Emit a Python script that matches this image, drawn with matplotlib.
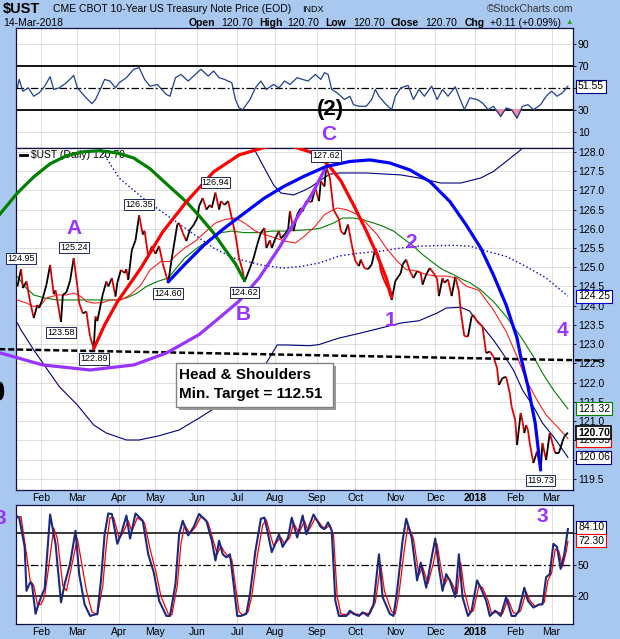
import numpy as np
import matplotlib
matplotlib.use('Agg')
import matplotlib.pyplot as plt
from matplotlib.collections import LineCollection
from matplotlib.patches import Rectangle, Ellipse
import matplotlib.transforms as mtransforms

plt.rcParams['font.family'] = ['Liberation Sans', 'DejaVu Sans']

# ---------------- data (x = trading session counted from 13-Jan-2017) ----------------
month_labels = ['Feb', 'Mar', 'Apr', 'May', 'Jun', 'Jul', 'Aug', 'Sep', 'Oct', 'Nov', 'Dec', '2018', 'Feb', 'Mar']
month_sessions = [13, 33, 56, 76, 99, 121, 142, 165, 186, 208, 230, 252, 274, 294]

price_session = [
    0, 2, 3, 5, 7, 9, 11, 12, 14, 16,
    18, 20, 21, 24, 25, 27, 29, 31, 33, 34,
    36, 38, 39, 40, 42, 43, 44, 46, 47, 49,
    50, 52, 54, 55, 57, 59, 60, 61, 63, 65,
    67, 69, 70, 72, 74, 76, 78, 80, 82, 83,
    85, 88, 89, 91, 93, 95, 97, 99, 100, 102,
    104, 106, 107, 109, 111, 112, 114, 116, 118, 120,
    122, 124, 125, 128, 130, 132, 134, 136, 137, 139,
    140, 142, 144, 145, 147, 149, 150, 152, 154, 156,
    157, 159, 162, 164, 166, 167, 169, 170, 172, 174,
    177, 178, 180, 182, 184, 186, 188, 189, 191, 193,
    195, 197, 199, 200, 202, 204, 206, 208, 211, 212,
    214, 216, 218, 220, 222, 223, 225, 227, 229, 231,
    232, 234, 235, 237, 239, 241, 243, 244, 246, 248,
    250, 251, 253, 256, 257, 258, 260, 262, 264, 265,
    267, 269, 271, 272, 274, 275, 277, 278, 279, 280,
    281, 282, 284, 286, 288, 289, 291, 293, 295, 296,
    298, 300, 301, 303]
price_close = [
    124.50, 124.95, 124.46, 124.63, 124.10, 123.68, 124.02, 123.94, 124.20, 124.55,
    125.06, 124.30, 124.40, 123.58, 124.28, 124.35, 124.65, 125.24, 124.50, 124.07,
    123.80, 123.85, 123.50, 123.20, 122.89, 123.72, 123.60, 124.07, 124.30, 124.63,
    124.50, 124.72, 124.24, 124.60, 124.93, 124.85, 124.95, 124.67, 125.45, 125.70,
    126.35, 125.85, 125.95, 125.28, 125.54, 125.35, 125.55, 125.10, 124.76, 124.60,
    125.24, 126.11, 126.15, 125.90, 125.68, 125.98, 126.10, 126.28, 126.59, 126.80,
    126.50, 126.62, 126.55, 126.94, 126.50, 126.72, 126.62, 126.72, 126.28, 125.85,
    125.24, 124.90, 124.62, 124.98, 125.24, 125.59, 125.90, 126.02, 125.50, 125.70,
    125.50, 125.75, 125.94, 125.75, 125.85, 125.98, 126.46, 125.94, 126.37, 126.54,
    126.45, 126.72, 126.70, 127.06, 126.72, 127.24, 127.10, 127.62, 127.32, 126.50,
    126.24, 125.94, 125.85, 126.11, 125.59, 125.16, 125.03, 125.20, 124.98, 124.95,
    125.07, 125.50, 125.25, 124.90, 124.64, 124.45, 124.15, 124.64, 124.85, 125.07,
    125.20, 124.90, 124.72, 124.90, 124.85, 124.55, 124.81, 124.98, 124.85, 124.70,
    124.25, 124.72, 124.60, 124.68, 124.25, 124.75, 124.38, 123.86, 123.21, 123.20,
    123.72, 123.76, 123.59, 123.46, 123.11, 122.77, 122.81, 122.68, 122.38, 121.94,
    122.12, 122.15, 121.73, 121.38, 121.03, 120.38, 121.21, 121.00, 120.69, 120.90,
    120.77, 120.43, 119.91, 120.21, 119.73, 120.43, 119.99, 120.69, 120.34, 120.17,
    120.17, 120.47, 120.60, 120.70]

ma_red_session = [0, 5, 9, 13, 16, 22, 27, 31, 35, 38, 42, 47, 51, 57, 62, 68, 73, 79, 84, 87,
                  92, 98, 103, 109, 114, 120, 125, 131, 136, 142, 147, 153, 158, 164, 169, 176, 181, 187, 192, 198,
                  203, 209, 214, 220, 225, 231, 236, 242, 247, 254, 262, 269, 275, 280, 286, 291, 297, 303]
ma_red_value = [124.15, 124.07, 123.98, 124.02, 124.20, 124.28, 124.28, 124.33, 124.24, 124.11,
                124.07, 124.08, 124.15, 124.15, 124.28, 124.54, 124.93, 125.15, 125.15, 125.30,
                125.50, 125.68, 125.90, 126.15, 126.24, 126.28, 126.15, 125.94, 125.85, 125.76,
                125.68, 125.63, 125.81, 126.07, 126.37, 126.54, 126.50, 126.37, 126.15, 125.85,
                125.50, 125.16, 124.94, 124.90, 124.81, 124.77, 124.77, 124.72, 124.51, 124.40,
                123.89, 123.33, 122.68, 122.07, 121.55, 121.16, 120.86, 120.55]

ma_green_session = [0, 4, 9, 15, 22, 29, 35, 42, 49, 55, 60, 66, 71, 77, 83, 92, 99, 107, 112, 118,
                    125, 133, 140, 147, 155, 162, 167, 174, 179, 185, 190, 196, 201, 207, 212, 218, 223, 229, 234, 240,
                    245, 249, 255, 262, 269, 277, 284, 289, 295, 303]
ma_green_value = [124.76, 124.50, 124.28, 124.20, 124.15, 124.15, 124.15, 124.15, 124.15, 124.15,
                  124.20, 124.33, 124.50, 124.63, 124.72, 125.24, 125.50, 125.76, 125.90, 125.94,
                  125.90, 125.90, 125.94, 125.94, 125.96, 125.98, 126.02, 126.15, 126.28, 126.28,
                  126.24, 126.15, 126.07, 125.94, 125.76, 125.55, 125.33, 125.11, 124.94, 124.81,
                  124.68, 124.60, 124.41, 124.11, 123.72, 123.20, 122.68, 122.25, 121.81, 121.32]

ma_long_session = [40, 44, 56, 69, 82, 95, 108, 119, 134, 146, 156, 166, 177, 185, 200, 211, 221, 240,
                   249, 256, 269, 280, 291, 303]
ma_long_value = [128.50, 128.20, 127.32, 126.80, 126.36, 125.93, 125.50, 125.24, 125.06, 124.98, 125.02,
                 125.11, 125.29, 125.35, 125.42, 125.50, 125.55, 125.57, 125.55, 125.45, 125.28, 125.02,
                 124.72, 124.25]

band_low_session = [0, 2, 9, 14, 23, 33, 42, 49, 60, 67, 78, 89, 100, 110, 119, 130, 137, 143, 148, 161,
                    166, 177, 189, 200, 211, 221, 231, 236, 244, 249, 251, 256, 262, 267, 273, 278, 284, 289, 295, 303]
band_low_value = [123.55, 123.37, 122.85, 122.51, 121.90, 121.42, 120.90, 120.69, 120.51, 120.51,
                  120.62, 120.77, 121.08, 121.38, 121.77, 122.20, 122.51, 122.98, 122.98, 122.96,
                  122.99, 123.16, 123.29, 123.42, 123.55, 123.61, 123.81, 123.94, 123.96, 123.86,
                  123.72, 123.46, 123.11, 122.77, 122.33, 121.81, 121.38, 120.95, 120.60, 120.06]

band_up_session = [120, 125, 130, 135, 141, 145, 152, 158, 162, 166, 172, 177, 192, 211, 221, 233, 244,
                   255, 262, 269, 277, 282, 290]
band_up_value = [129.00, 128.50, 128.10, 127.66, 127.14, 126.93, 126.88, 127.00, 127.10, 127.24, 127.42,
                 127.45, 127.45, 127.40, 127.32, 127.19, 127.19, 127.32, 127.49, 127.75, 128.05, 128.35, 128.80]

green_arc_session = [-10, 0, 9, 18, 27, 36, 45, 55, 64, 73, 82, 93, 100, 108, 114, 120, 125]
green_arc_value = [126.36, 126.93, 127.35, 127.69, 127.90, 128.00, 128.03, 127.97, 127.84, 127.56, 127.17,
                   126.70, 126.34, 125.89, 125.48, 125.09, 124.65]
red_arc_session = [42, 48, 55, 68, 80, 93, 108, 122, 137, 150, 161, 167, 172, 178, 185, 192, 198, 203, 206]
red_arc_value = [122.88, 123.50, 124.10, 124.98, 125.92, 126.70, 127.48, 127.92, 128.13, 128.16, 128.00,
                 127.84, 127.61, 127.25, 126.62, 125.95, 125.32, 124.72, 124.23]
blue_arc_session = [83, 92, 103, 114, 125, 136, 147, 158, 170, 183, 194, 205, 216, 227, 238, 247, 255, 262,
                    269, 275, 277, 281, 285, 288]
blue_arc_value = [124.62, 125.07, 125.59, 126.02, 126.41, 126.80, 127.11, 127.37, 127.62, 127.75, 127.79,
                  127.71, 127.53, 127.23, 126.71, 126.10, 125.50, 124.80, 124.02, 123.16, 122.68, 121.90,
                  120.95, 119.73]
purple_arc_session = [-10, 14, 40, 64, 82, 100, 111, 122, 133, 144, 155, 162, 170]
purple_arc_value = [122.78, 122.46, 122.33, 122.46, 122.77, 123.25, 123.68, 124.12, 124.72, 125.50, 126.37,
                    126.89, 127.62]
neckline_session = [-10, 323]
neckline_value = [122.87, 122.57]

peak_sessions = [2, 31, 67, 109, 170]
peak_values = [124.95, 125.24, 126.35, 126.94, 127.62]
trough_sessions = [24, 42, 83, 125, 288]
trough_values = [123.58, 122.89, 124.60, 124.62, 119.73]

rsi_session = [0, 1, 3, 6, 9, 12, 15, 18, 20, 23, 27, 31, 33, 37, 41, 43, 46, 48, 51, 54,
               56, 60, 64, 67, 70, 73, 77, 82, 84, 87, 90, 94, 97, 101, 105, 108, 111, 114, 118, 120,
               122, 124, 128, 131, 134, 137, 141, 144, 147, 150, 154, 157, 160, 164, 167, 169, 171, 173, 176, 180,
               183, 185, 188, 192, 195, 197, 199, 203, 206, 208, 211, 215, 218, 221, 224, 228, 231, 234, 237, 241,
               243, 246, 249, 253, 256, 259, 262, 266, 269, 272, 275, 278, 281, 284, 288, 291, 294, 297, 300, 303]
rsi_value = [50.5, 57.7, 46.9, 50.0, 42.3, 45.4, 51.5, 60.2, 48.5, 50.0,
             54.7, 61.4, 50.0, 42.3, 35.5, 39.3, 50.0, 57.7, 56.2, 50.0,
             54.7, 59.3, 67.0, 68.5, 57.7, 51.5, 53.1, 43.9, 42.3, 59.3,
             62.3, 56.2, 60.8, 67.0, 60.8, 65.4, 59.3, 57.7, 54.7, 39.3,
             31.6, 30.0, 39.3, 50.0, 56.2, 48.5, 53.1, 50.0, 56.2, 53.1,
             59.3, 57.7, 56.2, 62.3, 57.7, 63.9, 62.3, 48.5, 45.4, 39.3,
             42.3, 34.6, 33.1, 33.1, 39.3, 48.5, 42.3, 34.6, 30.0, 42.3,
             50.0, 52.2, 39.3, 48.5, 42.3, 51.5, 39.3, 48.5, 42.3, 51.0,
             42.3, 30.0, 40.8, 39.3, 36.2, 30.0, 33.1, 23.8, 31.6, 30.0,
             22.3, 33.1, 34.6, 30.0, 34.6, 42.3, 46.9, 42.3, 45.4, 51.55]

stk_session = [0, 1, 4, 5, 7, 8, 10, 11, 13, 15, 18, 21, 24, 26, 29, 32, 34, 37, 40, 44,
               46, 48, 50, 52, 55, 57, 60, 62, 65, 69, 72, 75, 78, 82, 84, 87, 89, 91, 94, 97,
               100, 104, 107, 109, 111, 113, 115, 117, 119, 121, 123, 126, 128, 131, 134, 136, 138, 140, 144, 146,
               149, 151, 154, 157, 159, 161, 163, 167, 169, 171, 173, 175, 177, 181, 183, 185, 188, 190, 193, 196,
               199, 201, 205, 207, 209, 212, 214, 217, 220, 222, 225, 228, 230, 232, 234, 236, 238, 241, 243, 245,
               248, 250, 253, 255, 258, 260, 263, 266, 269, 272, 274, 276, 279, 281, 284, 287, 289, 291, 293, 295,
               297, 299, 301, 303]
stk_value = [96, 95, 67, 25, 33, 31.5, 3, 9, 19, 27, 98, 70, 14, 31.5, 51, 82.5, 41, 12, 1, 3,
             35, 79, 99, 98.5, 70, 79, 97, 75, 99, 92, 60, 43, 15.5, 1, 1, 31.5, 79, 92, 78, 86,
             98.5, 92, 73, 54, 73, 60, 57, 60, 31.5, 1, 1, 3, 22, 63, 94, 95, 79, 62, 79, 67,
             76, 95, 76, 97, 79, 89, 98, 86, 84, 90.5, 82.5, 15.5, 1, 1, 6, 3, 1, 4.5, 1, 12,
             60, 19, 3, 1, 25, 73, 94, 76, 35, 52, 28, 57, 75, 47, 25, 41, 35, 19, 60, 19,
             1, 6, 35, 28, 15.5, 1, 6, 1, 19, 1, 1, 6, 28, 15.5, 9, 12, 12, 38, 41, 70,
             67, 46, 60, 84.10]
std_session = [0, 2, 5, 7, 9, 11, 13, 15, 17, 20, 22, 25, 27, 30, 33, 35, 38, 41, 44, 47,
               49, 51, 53, 56, 58, 61, 63, 66, 70, 73, 76, 79, 83, 85, 88, 90, 92, 95, 98, 101,
               105, 108, 110, 112, 114, 116, 118, 120, 122, 124, 127, 129, 132, 135, 137, 139, 141, 145, 147, 150,
               152, 155, 158, 160, 162, 164, 168, 170, 172, 174, 176, 178, 182, 184, 186, 189, 191, 194, 197, 200,
               202, 206, 208, 210, 213, 215, 218, 221, 223, 226, 229, 231, 233, 235, 237, 239, 242, 244, 246, 249,
               251, 254, 256, 259, 261, 264, 267, 270, 273, 275, 277, 280, 282, 285, 288, 290, 292, 294, 296, 298,
               300, 302, 303]
std_value = [95, 96, 60, 35, 30, 12, 12, 20, 45, 85, 75, 30, 25, 50, 75, 55, 25, 5, 2, 30,
             70, 95, 95, 75, 80, 92, 82, 95, 90, 65, 45, 20, 3, 2, 30, 70, 88, 80, 86, 96,
             90, 72, 60, 68, 62, 58, 55, 30, 5, 2, 5, 20, 58, 88, 93, 80, 68, 76, 70, 76,
             90, 80, 92, 82, 88, 95, 86, 85, 88, 78, 20, 3, 2, 5, 3, 2, 4, 3, 14, 50,
             25, 5, 3, 22, 65, 88, 75, 40, 48, 32, 52, 70, 48, 30, 38, 33, 22, 52, 25, 4,
             6, 30, 28, 16, 3, 5, 3, 17, 4, 3, 6, 24, 16, 10, 12, 14, 35, 42, 65, 63,
             48, 62, 72.30]

# tick labels as shown (those hidden behind value boxes in the reference are blank)
price_ticks = [119.5, 120.0, 120.5, 121.0, 121.5, 122.0, 122.5, 123.0, 123.5, 124.0, 124.5,
               125.0, 125.5, 126.0, 126.5, 127.0, 127.5, 128.0]
price_tick_labels = ['119.5', '', '', '121.0', '121.5', '122.0', '122.5', '123.0', '123.5', '124.0',
                     '124.5', '125.0', '125.5', '126.0', '126.5', '127.0', '127.5', '128.0']
rsi_ticks = [10, 30, 50, 70, 90]
rsi_tick_labels = ['10', '30', '', '70', '90']
stoch_ticks = [20, 50, 80]
stoch_tick_labels = ['20', '50', '']

# ---------------- style ----------------
W, H = 620, 639
BG = '#A9C8F0'
GRID = '#D9D9D9'
NAVY = '#000080'
PURPLE = '#9933FF'
X_LO, X_HI = -0.77, 305.8


def fx(x):
    return x / W


def fy(y):
    return 1 - y / H


fig = plt.figure(figsize=(W / 100, H / 100), dpi=100)
fig.patch.set_facecolor(BG)


def add_ax(l, t, r, b):
    return fig.add_axes([l / W, 1 - b / H, (r - l) / W, (b - t) / H])


ax_rsi = add_ax(16, 28, 573, 148)
ax = add_ax(16, 148, 573, 490)
ax_st = add_ax(16, 505, 573, 624)

for a in (ax_rsi, ax, ax_st):
    a.set_facecolor('white')
    for sp in a.spines.values():
        sp.set_color('#101040')
        sp.set_linewidth(0.9)
    a.set_xlim(X_LO, X_HI)
    a.yaxis.tick_right()
    a.tick_params(axis='y', direction='out', length=2, width=0.6, labelsize=7.5, pad=1.5)
    a.tick_params(axis='x', length=0, labelsize=7.5, pad=2.5)
    a.set_xticks(month_sessions)
    for s in month_sessions:
        a.axvline(s, color=GRID, lw=0.6, zorder=0)

ax_rsi.set_xticklabels([])
for a in (ax, ax_st):
    a.set_xticklabels(month_labels)
    for lab in a.get_xticklabels():
        if lab.get_text() == '2018':
            lab.set_fontweight('bold')


def right_box(a, y, txt, ec, bold=False, lw=0.8):
    tr = mtransforms.blended_transform_factory(a.transAxes, a.transData)
    a.text(1.009, y, txt, transform=tr, ha='left', va='center', fontsize=7.5,
           fontweight='bold' if bold else 'normal',
           bbox=dict(boxstyle='square,pad=0.15', fc='white', ec=ec, lw=lw),
           clip_on=False, zorder=10)


# ---------------- RSI panel ----------------
ax_rsi.set_ylim(-5.1, 104.8)
ax_rsi.set_yticks(rsi_ticks)
ax_rsi.set_yticklabels(rsi_tick_labels)
for t in (10, 90):
    ax_rsi.axhline(t, color=GRID, lw=0.6, zorder=0)
ax_rsi.axhline(70, color='black', lw=1.3, zorder=1)
ax_rsi.axhline(30, color='black', lw=1.3, zorder=1)
ax_rsi.axhline(50, color='black', lw=0.9, ls=(0, (6, 2, 1.5, 2)), zorder=1)
rs = np.array(rsi_session, dtype=float)
rv = np.array(rsi_value)
ax_rsi.fill_between(rs, rv, 30, where=rv < 30, interpolate=True, color='#F08CA0', zorder=2)
ax_rsi.plot(rs, rv, color='#1F3F8F', lw=0.9, zorder=3)
right_box(ax_rsi, rsi_value[-1], f'{rsi_value[-1]:.2f}', NAVY)

# ---------------- main panel ----------------
ax.set_ylim(119.21, 128.10)
ax.set_yticks(price_ticks)
ax.set_yticklabels(price_tick_labels)
for t in price_ticks:
    ax.axhline(t, color=GRID, lw=0.6, zorder=0)

ax.plot(band_up_session, band_up_value, color=NAVY, lw=0.8, zorder=2)
ax.plot(band_low_session, band_low_value, color=NAVY, lw=0.8, zorder=2)
ax.plot(ma_long_session, ma_long_value, color='#0000CD', lw=1.0, ls=(0, (1, 1.8)), zorder=2)
ax.plot(ma_green_session, ma_green_value, color='#008000', lw=0.8, zorder=3)
ax.plot(ma_red_session, ma_red_value, color='#FF2020', lw=0.8, zorder=3)

pts = np.column_stack([price_session, price_close]).astype(float)
segs = np.stack([pts[:-1], pts[1:]], axis=1)
cols = ['black' if b >= a_ else '#E00000' for a_, b in zip(price_close[:-1], price_close[1:])]
ax.add_collection(LineCollection(segs, colors=cols, linewidths=1.3, zorder=4))

ax.plot(neckline_session, neckline_value, color='black', lw=1.8, ls=(0, (2.4, 1.2)),
        zorder=5, clip_on=False)
ax.plot(green_arc_session, green_arc_value, color='#008000', lw=2.3, zorder=6, clip_on=False,
        solid_capstyle='round', solid_joinstyle='round')
ax.plot(purple_arc_session, purple_arc_value, color=PURPLE, lw=2.3, zorder=6, clip_on=False,
        solid_capstyle='round', solid_joinstyle='round')
ax.plot(red_arc_session, red_arc_value, color='#FF0000', lw=2.3, zorder=6, solid_capstyle='round',
        solid_joinstyle='round')
ax.plot(blue_arc_session, blue_arc_value, color='#0000FF', lw=2.3, zorder=6, solid_capstyle='round',
        solid_joinstyle='round')

lab_box = dict(boxstyle='square,pad=0.12', fc='white', ec='#1F2A5A', lw=0.7)
for s, v in zip(peak_sessions, peak_values):
    ax.annotate(f'{v:.2f}', xy=(s, v), xytext=(0, 10.5), textcoords='offset pixels',
                ha='center', va='center', fontsize=6.5, bbox=lab_box, zorder=9,
                annotation_clip=False)
for s, v in zip(trough_sessions, trough_values):
    ax.annotate(f'{v:.2f}', xy=(s, v), xytext=(0, -10.5), textcoords='offset pixels',
                ha='center', va='center', fontsize=6.5, bbox=lab_box, zorder=9,
                annotation_clip=False)

ax.plot([0.0072, 0.0197], [0.9795, 0.9795], transform=ax.transAxes, color='black', lw=2, zorder=5)
ax.text(0.027, 0.9795, '\\$UST (Daily) ' + f'{price_close[-1]:.2f}', transform=ax.transAxes,
        fontsize=7.5, va='center', ha='left', zorder=5)

right_box(ax, ma_long_value[-1], f'{ma_long_value[-1]:.2f}', '#0000CD')
right_box(ax, ma_green_value[-1], f'{ma_green_value[-1]:.2f}', '#008000')
right_box(ax, ma_red_value[-1] - 0.05, f'{ma_red_value[-1]:.2f}', '#FF0000')
right_box(ax, band_low_value[-1], f'{band_low_value[-1]:.2f}', NAVY)
right_box(ax, price_close[-1], f'{price_close[-1]:.2f}', 'black', bold=True, lw=1.2)

# ---------------- stochastic panel ----------------
ax_st.set_ylim(-6.7, 107.1)
ax_st.set_yticks(stoch_ticks)
ax_st.set_yticklabels(stoch_tick_labels)
ax_st.axhline(80, color='black', lw=1.1, zorder=1)
ax_st.axhline(20, color='black', lw=1.1, zorder=1)
ax_st.axhline(50, color='black', lw=0.9, ls=(0, (6, 2, 1.5, 2)), zorder=1)
ax_st.plot(std_session, std_value, color='#FF0000', lw=0.9, zorder=3)
ax_st.plot(stk_session, stk_value, color='#1A2A80', lw=1.5, zorder=4)
right_box(ax_st, stk_value[-1] + 1.5, f'{stk_value[-1]:.2f}', NAVY)
right_box(ax_st, std_value[-1] + 0.5, f'{std_value[-1]:.2f}', '#FF0000')

# ---------------- header ----------------
fig.text(fx(3), fy(9.5), '\\$UST', fontsize=10.5, fontweight='bold', va='center', ha='left')
fig.text(fx(53), fy(9.5), 'CME CBOT 10-Year US Treasury Note Price (EOD)', fontsize=7.5,
         va='center', ha='left')
fig.text(fx(302), fy(9.5), 'INDX', fontsize=6.5, va='center', ha='left')
fig.text(fx(573), fy(9.5), '\u00a9StockCharts.com', fontsize=7.5, va='center', ha='right',
         color='#333333')
fig.text(fx(3), fy(23), '14-Mar-2018', fontsize=7.5, va='center', ha='left')
hdr = [(189, 'Open', True), (221, '120.70', False), (259, 'High', True), (287, '120.70', False),
       (325, 'Low', True), (353, '120.70', False), (391, 'Close', True), (425, '120.70', False),
       (465, 'Chg', True), (490, '+0.11 (+0.09%)', False)]
for x, t, b in hdr:
    fig.text(fx(x), fy(23), t, fontsize=7.5, va='center', ha='left',
             fontweight='bold' if b else 'normal')
fig.text(fx(569), fy(23), '\u25b2', fontsize=5.5, va='center', ha='center', color='#2E9E2E')

# ---------------- annotations ----------------
def ftxt(x, y, s, color=PURPLE, size=15):
    fig.text(fx(x), fy(y), s, ha='center', va='center', fontsize=size, fontweight='bold',
             color=color, zorder=20)


ftxt(74, 228, 'A')
ftxt(243, 314, 'B')
ftxt(329, 134, 'C')
ftxt(330, 109, '(2)', color='black', size=16)
ftxt(390, 321, '1')
ftxt(411, 242, '2')
ftxt(562, 331, '4')
ftxt(542, 516, '3')
ftxt(0, 518, '3')

fig.add_artist(Ellipse((fx(0), fy(391)), 7 / W, 17 / H, transform=fig.transFigure,
                       color='black', zorder=5))

fig.add_artist(Rectangle((fx(179), fy(410)), 157 / W, 44 / H, transform=fig.transFigure,
                         fc='#9A9A9A', ec='none', zorder=15))
fig.add_artist(Rectangle((fx(176), fy(407)), 157 / W, 44 / H, transform=fig.transFigure,
                         fc='white', ec='#808080', lw=1.0, zorder=16))
fig.text(fx(179), fy(375), 'Head & Shoulders', fontsize=11, fontweight='bold', ha='left',
         va='center', zorder=17)
fig.text(fx(179), fy(394), 'Min. Target = 112.51', fontsize=11, fontweight='bold', ha='left',
         va='center', zorder=17)

fig.savefig('out.png', dpi=100, facecolor=fig.get_facecolor())
